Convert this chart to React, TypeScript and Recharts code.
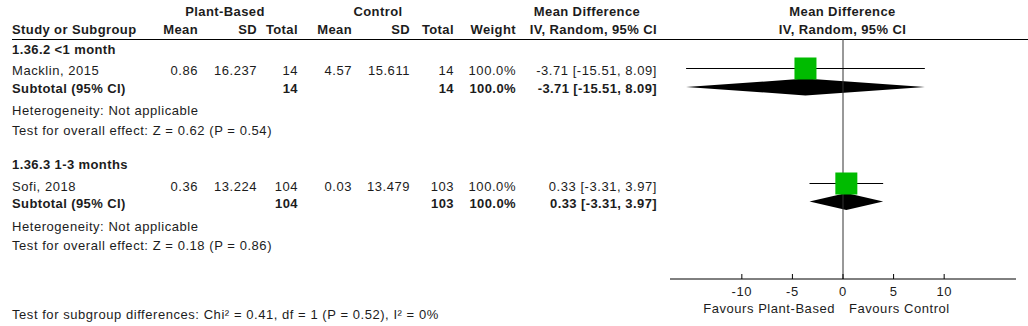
import React from 'react';
import {
  ComposedChart,
  XAxis,
  YAxis,
  Scatter,
  ReferenceLine,
  ReferenceArea,
  Customized,
} from 'recharts';

// ---- data ----
const groups = ['1.36.2 <1 month', '1.36.3 1-3 months'];
const studies = ['Macklin, 2015', 'Sofi, 2018'];
const plantMean = [0.86, 0.36];
const plantSD = [16.237, 13.224];
const plantTotal = [14, 104];
const controlMean = [4.57, 0.03];
const controlSD = [15.611, 13.479];
const controlTotal = [14, 103];
const weights = [100, 100];
const meanDiff = [-3.71, 0.33];
const ciLow = [-15.51, -3.31];
const ciHigh = [8.09, 3.97];
const subMeanDiff = [-3.71, 0.33];
const subLow = [-15.51, -3.31];
const subHigh = [8.09, 3.97];
const heterogeneity = ['Not applicable', 'Not applicable'];
const zValues = [0.62, 0.18];
const pValues = [0.54, 0.86];
const subgroupTest = { chi2: 0.41, df: 1, p: 0.52, i2: 0 };
const xTicks = [-10, -5, 0, 5, 10];
const favours = ['Favours Plant-Based', 'Favours Control'];

// ---- layout ----
const W = 1028;
const H = 326;
const FONT = '"Liberation Sans", Arial, sans-serif';
const INK = '#1c1c1c';
const X_DOMAIN: [number, number] = [-17.1, 17.1];
const ROW_DOMAIN: [number, number] = [0, 12];
const STUDY_ROW = [1.475, 7.225];
const SUBTOTAL_ROW = [2.4, 8.125];
const BASE = {
  group: [54, 169],
  study: [75, 191],
  subtotal: [93, 208],
  het: [115, 231],
  test: [135, 250],
};
const COL = {
  name: 12,
  pMean: 198,
  pSD: 257,
  pTotal: 298,
  cMean: 352,
  cSD: 410,
  cTotal: 454,
  weight: 516,
  ci: 657,
};

const fmtCI = (m: number, lo: number, hi: number) =>
  `${m.toFixed(2)} [${lo.toFixed(2)}, ${hi.toFixed(2)}]`;

const T = ({ x, y, anchor = 'start', bold = false, children }: any) => (
  <text
    x={x}
    y={y}
    textAnchor={anchor}
    fontFamily={FONT}
    fontSize={13}
    letterSpacing={bold ? 0.4 : 0.55}
    fontWeight={bold ? 'bold' : 'normal'}
    fill={INK}
  >
    {children}
  </text>
);

const TableLayer = () => (
  <g>
    {/* headers */}
    <T x={225} y={16} anchor="middle" bold>Plant-Based</T>
    <T x={378} y={16} anchor="middle" bold>Control</T>
    <T x={587} y={16} anchor="middle" bold>Mean Difference</T>
    <T x={842.5} y={16} anchor="middle" bold>Mean Difference</T>
    <T x={842.5} y={34} anchor="middle" bold>IV, Random, 95% CI</T>
    <T x={COL.name} y={34} bold>Study or Subgroup</T>
    <T x={COL.pMean} y={34} anchor="end" bold>Mean</T>
    <T x={COL.pSD} y={34} anchor="end" bold>SD</T>
    <T x={COL.pTotal} y={34} anchor="end" bold>Total</T>
    <T x={COL.cMean} y={34} anchor="end" bold>Mean</T>
    <T x={COL.cSD} y={34} anchor="end" bold>SD</T>
    <T x={COL.cTotal} y={34} anchor="end" bold>Total</T>
    <T x={COL.weight} y={34} anchor="end" bold>Weight</T>
    <T x={COL.ci} y={34} anchor="end" bold>IV, Random, 95% CI</T>
    <line x1={12} x2={W} y1={39.5} y2={39.5} stroke="#000" strokeWidth={1.2} />

    {groups.map((g, i) => (
      <g key={g}>
        <T x={COL.name} y={BASE.group[i]} bold>{g}</T>
        <T x={COL.name} y={BASE.study[i]}>{studies[i]}</T>
        <T x={COL.pMean} y={BASE.study[i]} anchor="end">{plantMean[i].toFixed(2)}</T>
        <T x={COL.pSD} y={BASE.study[i]} anchor="end">{plantSD[i].toFixed(3)}</T>
        <T x={COL.pTotal} y={BASE.study[i]} anchor="end">{plantTotal[i]}</T>
        <T x={COL.cMean} y={BASE.study[i]} anchor="end">{controlMean[i].toFixed(2)}</T>
        <T x={COL.cSD} y={BASE.study[i]} anchor="end">{controlSD[i].toFixed(3)}</T>
        <T x={COL.cTotal} y={BASE.study[i]} anchor="end">{controlTotal[i]}</T>
        <T x={COL.weight} y={BASE.study[i]} anchor="end">{weights[i].toFixed(1)}%</T>
        <T x={COL.ci} y={BASE.study[i]} anchor="end">{fmtCI(meanDiff[i], ciLow[i], ciHigh[i])}</T>

        <T x={COL.name} y={BASE.subtotal[i]} bold>Subtotal (95% CI)</T>
        <T x={COL.pTotal} y={BASE.subtotal[i]} anchor="end" bold>{plantTotal[i]}</T>
        <T x={COL.cTotal} y={BASE.subtotal[i]} anchor="end" bold>{controlTotal[i]}</T>
        <T x={COL.weight} y={BASE.subtotal[i]} anchor="end" bold>{weights[i].toFixed(1)}%</T>
        <T x={COL.ci} y={BASE.subtotal[i]} anchor="end" bold>{fmtCI(subMeanDiff[i], subLow[i], subHigh[i])}</T>

        <T x={COL.name} y={BASE.het[i]}>Heterogeneity: {heterogeneity[i]}</T>
        <T x={COL.name} y={BASE.test[i]}>
          {`Test for overall effect: Z = ${zValues[i].toFixed(2)} (P = ${pValues[i].toFixed(2)})`}
        </T>
      </g>
    ))}

    <T x={835} y={313} anchor="end">{favours[0]}</T>
    <T x={849} y={313}>{favours[1]}</T>

    <T x={COL.name} y={319}>
      {`Test for subgroup differences: Chi\u00b2 = ${subgroupTest.chi2.toFixed(2)}, df = ${subgroupTest.df} (P = ${subgroupTest.p.toFixed(2)}), I\u00b2 = ${subgroupTest.i2}%`}
    </T>
  </g>
);

const AxisTick = ({ x, y, payload }: any) => (
  <g>
    <line x1={x} x2={x} y1={y - 5} y2={y} stroke="#000" />
    <text x={x} y={y + 17} textAnchor="middle" fontFamily={FONT} fontSize={13} letterSpacing={0.55} fill={INK}>
      {payload.value}
    </text>
  </g>
);

const StudySquare = ({ cx, cy, payload }: any) => {
  const s = 22 * Math.sqrt(payload.weight / 100);
  return <rect x={cx - s / 2} y={cy - s / 2} width={s} height={s} fill="#00bb00" />;
};

const makeDiamond = (est: number, lo: number, hi: number) => (props: any) => {
  const { x, y, width, height } = props;
  const ex = x + (width * (est - lo)) / (hi - lo);
  const points = `${x},${y + height / 2} ${ex},${y} ${x + width},${y + height / 2} ${ex},${y + height}`;
  return <polygon points={points} fill="#000" />;
};

export default function App() {
  const studyPoints = studies.map((s, i) => ({
    x: meanDiff[i],
    y: STUDY_ROW[i],
    weight: weights[i],
  }));

  return (
    <div style={{ position: 'absolute', left: 0, top: 0, background: '#fff' }}>
      <ComposedChart
        width={W}
        height={H}
        margin={{ top: 39, right: 12, left: 670, bottom: 7 }}
      >
        <XAxis
          type="number"
          dataKey="x"
          domain={X_DOMAIN}
          ticks={xTicks}
          allowDataOverflow
          interval={0}
          tickLine={false}
          tickSize={0}
          tickMargin={0}
          axisLine={{ stroke: '#000' }}
          tick={<AxisTick />}
          height={40}
        />
        <YAxis type="number" dataKey="y" domain={ROW_DOMAIN} reversed hide allowDataOverflow />
        <ReferenceLine x={0} stroke="#333" />
        {studies.map((s, i) => (
          <ReferenceLine
            key={`ci-${s}`}
            segment={[
              { x: ciLow[i], y: STUDY_ROW[i] },
              { x: ciHigh[i], y: STUDY_ROW[i] },
            ]}
            stroke="#000"
          />
        ))}
        {groups.map((g, i) => (
          <ReferenceArea
            key={`dia-${g}`}
            x1={subLow[i]}
            x2={subHigh[i]}
            y1={SUBTOTAL_ROW[i] - 0.42}
            y2={SUBTOTAL_ROW[i] + 0.42}
            shape={makeDiamond(subMeanDiff[i], subLow[i], subHigh[i])}
          />
        ))}
        <Scatter data={studyPoints} shape={<StudySquare />} isAnimationActive={false} />
        <Customized component={<TableLayer />} />
      </ComposedChart>
    </div>
  );
}
